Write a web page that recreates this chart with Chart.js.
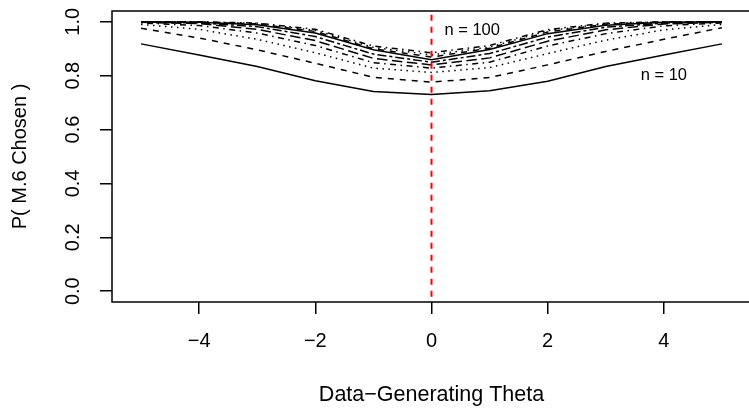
<!DOCTYPE html>
<html>
<head>
<meta charset="utf-8">
<script src="https://cdn.jsdelivr.net/npm/chart.js@4/dist/chart.umd.min.js"></script>
<style>
  html, body { margin: 0; padding: 0; background: #fff; overflow: hidden; }
  canvas { display: block; }
</style>
</head>
<body>
<canvas id="chart" width="752" height="408"></canvas>
<script>
// x values (data-generating theta)
const thetas = [-5, -4, -3, -2, -1, 0, 1, 2, 3, 4, 5];

// P(M.6 chosen) for each sample size
const pN10  = [0.918, 0.877, 0.834, 0.781, 0.741, 0.730, 0.744, 0.779, 0.834, 0.877, 0.918];
const pN20  = [0.976, 0.940, 0.896, 0.846, 0.794, 0.776, 0.793, 0.840, 0.890, 0.935, 0.978];
const pN30  = [0.990, 0.972, 0.935, 0.885, 0.828, 0.812, 0.830, 0.882, 0.932, 0.970, 0.990];
const pN40  = [0.996, 0.986, 0.958, 0.912, 0.848, 0.828, 0.850, 0.910, 0.956, 0.985, 0.996];
const pN50  = [0.998, 0.993, 0.972, 0.930, 0.864, 0.840, 0.866, 0.928, 0.970, 0.992, 0.998];
const pN60  = [0.999, 0.996, 0.982, 0.945, 0.880, 0.850, 0.882, 0.943, 0.980, 0.995, 0.999];
const pN70  = [1.000, 0.998, 0.989, 0.958, 0.896, 0.859, 0.897, 0.956, 0.987, 0.998, 1.000];
const pN80  = [1.000, 0.999, 0.992, 0.964, 0.900, 0.869, 0.902, 0.962, 0.991, 0.999, 1.000];
const pN90  = [1.000, 0.999, 0.994, 0.968, 0.905, 0.877, 0.906, 0.967, 0.993, 0.999, 1.000];
const pN100 = [1.000, 1.000, 0.995, 0.972, 0.910, 0.885, 0.912, 0.971, 0.995, 1.000, 1.000];

const sampleSizes = [10, 20, 30, 40, 50, 60, 70, 80, 90, 100];
const seriesValues = [pN10, pN20, pN30, pN40, pN50, pN60, pN70, pN80, pN90, pN100];

const xTicks = [-4, -2, 0, 2, 4];
const yTicks = [0, 0.2, 0.4, 0.6, 0.8, 1.0];
const trueTheta = 0;

// text notes in data coordinates
const notes = [
  { text: 'n = 100', x: 0.7, y: 0.967 },
  { text: 'n = 10', x: 4.0, y: 0.80 }
];

// R line types 1..6, recycled
const lw = 1.5;
const ltys = [
  [],
  [4, 4],
  [1, 3],
  [1, 3, 4, 3],
  [7, 3],
  [2, 2, 6, 2]
].map(p => p.map(v => v * lw));

const FONT = '"Liberation Sans", Arial, Helvetica, sans-serif';
Chart.defaults.font.family = FONT;
Chart.defaults.color = '#000';

const datasets = [{
  // vertical reference line at the true theta
  data: [{ x: trueTheta, y: -1 }, { x: trueTheta, y: 2 }],
  borderColor: '#ff0000',
  borderWidth: 2,
  borderDash: [6, 6],
  pointRadius: 0
}];
sampleSizes.forEach((n, i) => {
  datasets.push({
    label: 'n = ' + n,
    data: thetas.map((t, j) => ({ x: t, y: seriesValues[i][j] })),
    borderColor: '#000',
    borderWidth: lw,
    borderDash: ltys[i % 6],
    pointRadius: 0,
    tension: 0
  });
});

const boxAndNotes = {
  id: 'boxAndNotes',
  afterDatasetsDraw(chart) {
    const { ctx, chartArea: a, scales: { x, y } } = chart;
    ctx.save();
    ctx.strokeStyle = '#000';
    ctx.lineWidth = lw;
    ctx.strokeRect(a.left, a.top, a.right - a.left, a.bottom - a.top);
    ctx.font = '16.5px ' + FONT;
    ctx.fillStyle = '#000';
    ctx.textAlign = 'center';
    ctx.textBaseline = 'middle';
    notes.forEach(n => ctx.fillText(n.text, x.getPixelForValue(n.x), y.getPixelForValue(n.y)));
    ctx.restore();
  }
};

new Chart(document.getElementById('chart'), {
  type: 'line',
  data: { datasets },
  plugins: [boxAndNotes],
  options: {
    responsive: false,
    animation: false,
    layout: { padding: { top: 11, right: 1, left: 0, bottom: 0 } },
    plugins: { legend: { display: false }, tooltip: { enabled: false } },
    scales: {
      x: {
        type: 'linear',
        min: -5.5,
        max: 5.5,
        afterBuildTicks: s => { s.ticks = xTicks.map(v => ({ value: v })); },
        afterFit: s => { s.height = 106; s.paddingLeft = 0; s.paddingRight = 0; },
        ticks: {
          font: { size: 20 },
          padding: 15,
          callback: v => (v < 0 ? '\u2212' + Math.abs(v) : String(v))
        },
        grid: { drawOnChartArea: false, drawTicks: true, tickLength: 12, color: '#000', lineWidth: lw },
        border: { display: false },
        title: {
          display: true,
          text: 'Data\u2212Generating Theta',
          font: { size: 21.5 },
          padding: { top: 0, bottom: 0 }
        }
      },
      y: {
        min: -0.04,
        max: 1.04,
        afterBuildTicks: s => { s.ticks = yTicks.map(v => ({ value: v })); },
        afterFit: s => { s.width = 112; s.paddingTop = 0; s.paddingBottom = 0; },
        ticks: {
          font: { size: 20 },
          padding: 12.5,
          minRotation: 90,
          maxRotation: 90,
          crossAlign: 'center',
          callback: v => v.toFixed(1)
        },
        grid: { drawOnChartArea: false, drawTicks: true, tickLength: 12, color: '#000', lineWidth: lw },
        border: { display: false },
        title: {
          display: true,
          text: 'P( M.6 Chosen )',
          font: { size: 20 },
          padding: { top: 8, bottom: 0 }
        }
      }
    }
  }
});
</script>
</body>
</html>
